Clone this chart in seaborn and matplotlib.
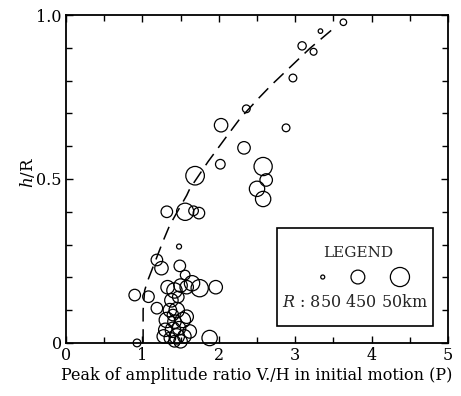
import numpy as np
import pandas as pd
import matplotlib
matplotlib.use("Agg")
import matplotlib.pyplot as plt
import seaborn as sns
from matplotlib.ticker import MultipleLocator, FixedLocator

# ---- data ----
vh_ratio = [3.63, 3.33, 3.09, 3.24, 2.97, 2.36, 2.03, 2.88, 2.33, 2.02,
            1.69, 2.58, 2.62, 2.50, 2.58, 1.32, 1.56, 1.67, 1.74, 1.48,
            1.19, 1.25, 1.49, 1.56, 0.90, 1.08, 1.19, 0.93, 1.88, 1.96,
            1.75, 1.65, 1.33, 1.42, 1.50, 1.58, 1.38, 1.47, 1.36, 1.45,
            1.40, 1.32, 1.42, 1.53, 1.58, 1.30, 1.40, 1.48, 1.62, 1.28,
            1.36, 1.45, 1.55, 1.42, 1.50]
h_over_R = [0.978, 0.951, 0.906, 0.888, 0.808, 0.714, 0.664, 0.656, 0.595, 0.545,
            0.510, 0.538, 0.497, 0.470, 0.439, 0.400, 0.400, 0.403, 0.396, 0.294,
            0.253, 0.228, 0.235, 0.207, 0.146, 0.141, 0.106, 0.000, 0.015, 0.170,
            0.167, 0.182, 0.170, 0.160, 0.175, 0.170, 0.130, 0.140, 0.100, 0.100,
            0.085, 0.070, 0.065, 0.070, 0.080, 0.040, 0.040, 0.045, 0.035, 0.020,
            0.015, 0.020, 0.020, 0.005, 0.005]
R_km = [790, 840, 730, 780, 750, 750, 475, 750, 530, 675,
        100, 130, 530, 350, 350, 583, 208, 675, 583, 830,
        583, 475, 583, 675, 583, 583, 583, 750, 350, 475,
        208, 350, 475, 350, 475, 475, 475, 583, 475, 350,
        583, 350, 475, 350, 475, 475, 350, 475, 475, 475,
        583, 350, 475, 583, 475]

curve_x = [1.01, 1.01, 1.03, 1.07, 1.27, 1.36, 1.58, 1.62, 1.86, 2.10,
           2.28, 2.52, 2.69, 3.19, 3.50]
curve_y = [0.00, 0.10, 0.16, 0.19, 0.31, 0.36, 0.45, 0.47, 0.553, 0.629,
           0.685, 0.746, 0.787, 0.898, 0.959]

legend_R = [850, 450, 50]
legend_x = [3.36, 3.82, 4.37]
legend_y = [0.201, 0.201, 0.201]

x_ticks = [0, 1, 2, 3, 4, 5]
y_ticks = [0, 0.5, 1.0]
y_ticklabels = ["0", "0.5", "1.0"]

df = pd.DataFrame({"vh": vh_ratio, "hR": h_over_R, "R": R_km})
leg_df = pd.DataFrame({"vh": legend_x, "hR": legend_y, "R": legend_R})
curve_df = pd.DataFrame({"vh": curve_x, "hR": curve_y})

# ---- figure ----
sns.set_theme(style="ticks")
plt.rcParams["font.family"] = ["DejaVu Serif"]
plt.rcParams["mathtext.fontset"] = "dejavuserif"

fig = plt.figure(figsize=(4.61, 3.96), dpi=100)
ax = fig.add_axes([0.143, 0.134, 0.829, 0.828])

size_kw = dict(size="R", sizes=(190, 8.3), size_norm=(50, 850), legend=False)

sns.lineplot(data=curve_df, x="vh", y="hR", sort=False, ax=ax, color="black",
             linewidth=1.1, dashes=False, estimator=None)
ax.lines[-1].set_dashes([9, 5])

sns.scatterplot(data=df, x="vh", y="hR", ax=ax, marker="o", linewidth=0.9, **size_kw)
sns.scatterplot(data=leg_df, x="vh", y="hR", ax=ax, marker="o", linewidth=0.9, **size_kw)
for coll in ax.collections:
    coll.set_facecolor("none")
    coll.set_edgecolor("black")
    coll.set_clip_on(False)

# legend box
ax.add_patch(plt.Rectangle((2.76, 0.052), 2.04, 0.299, fill=False,
                           edgecolor="black", linewidth=1.2))
ax.text(3.82, 0.274, "LEGEND", ha="center", va="center", fontsize=11)
ax.text(3.78, 0.122, "$R$ : 850 450 50km", ha="center", va="center", fontsize=11.5)

ax.set_xlim(0, 5)
ax.set_ylim(0, 1.0)
ax.xaxis.set_major_locator(FixedLocator(x_ticks))
ax.xaxis.set_minor_locator(MultipleLocator(0.5))
ax.yaxis.set_major_locator(FixedLocator(y_ticks))
ax.set_yticklabels(y_ticklabels)
ax.yaxis.set_minor_locator(MultipleLocator(0.1))
ax.tick_params(which="both", direction="in", top=True, right=True,
               labelsize=11.5, color="black", labelcolor="black", pad=3)
ax.tick_params(which="major", length=5, width=1.0)
ax.tick_params(which="minor", length=4, width=1.0)
for sp in ax.spines.values():
    sp.set_linewidth(1.3)
    sp.set_color("black")

ax.set_xlabel("Peak of amplitude ratio V./H in initial motion (P)", fontsize=11.5,
              labelpad=2, color="black")
ax.set_ylabel("$h$/R", fontsize=12, color="black")
ax.yaxis.set_label_coords(-0.075, 0.52)

fig.savefig("out.png", dpi=100, facecolor="white")
